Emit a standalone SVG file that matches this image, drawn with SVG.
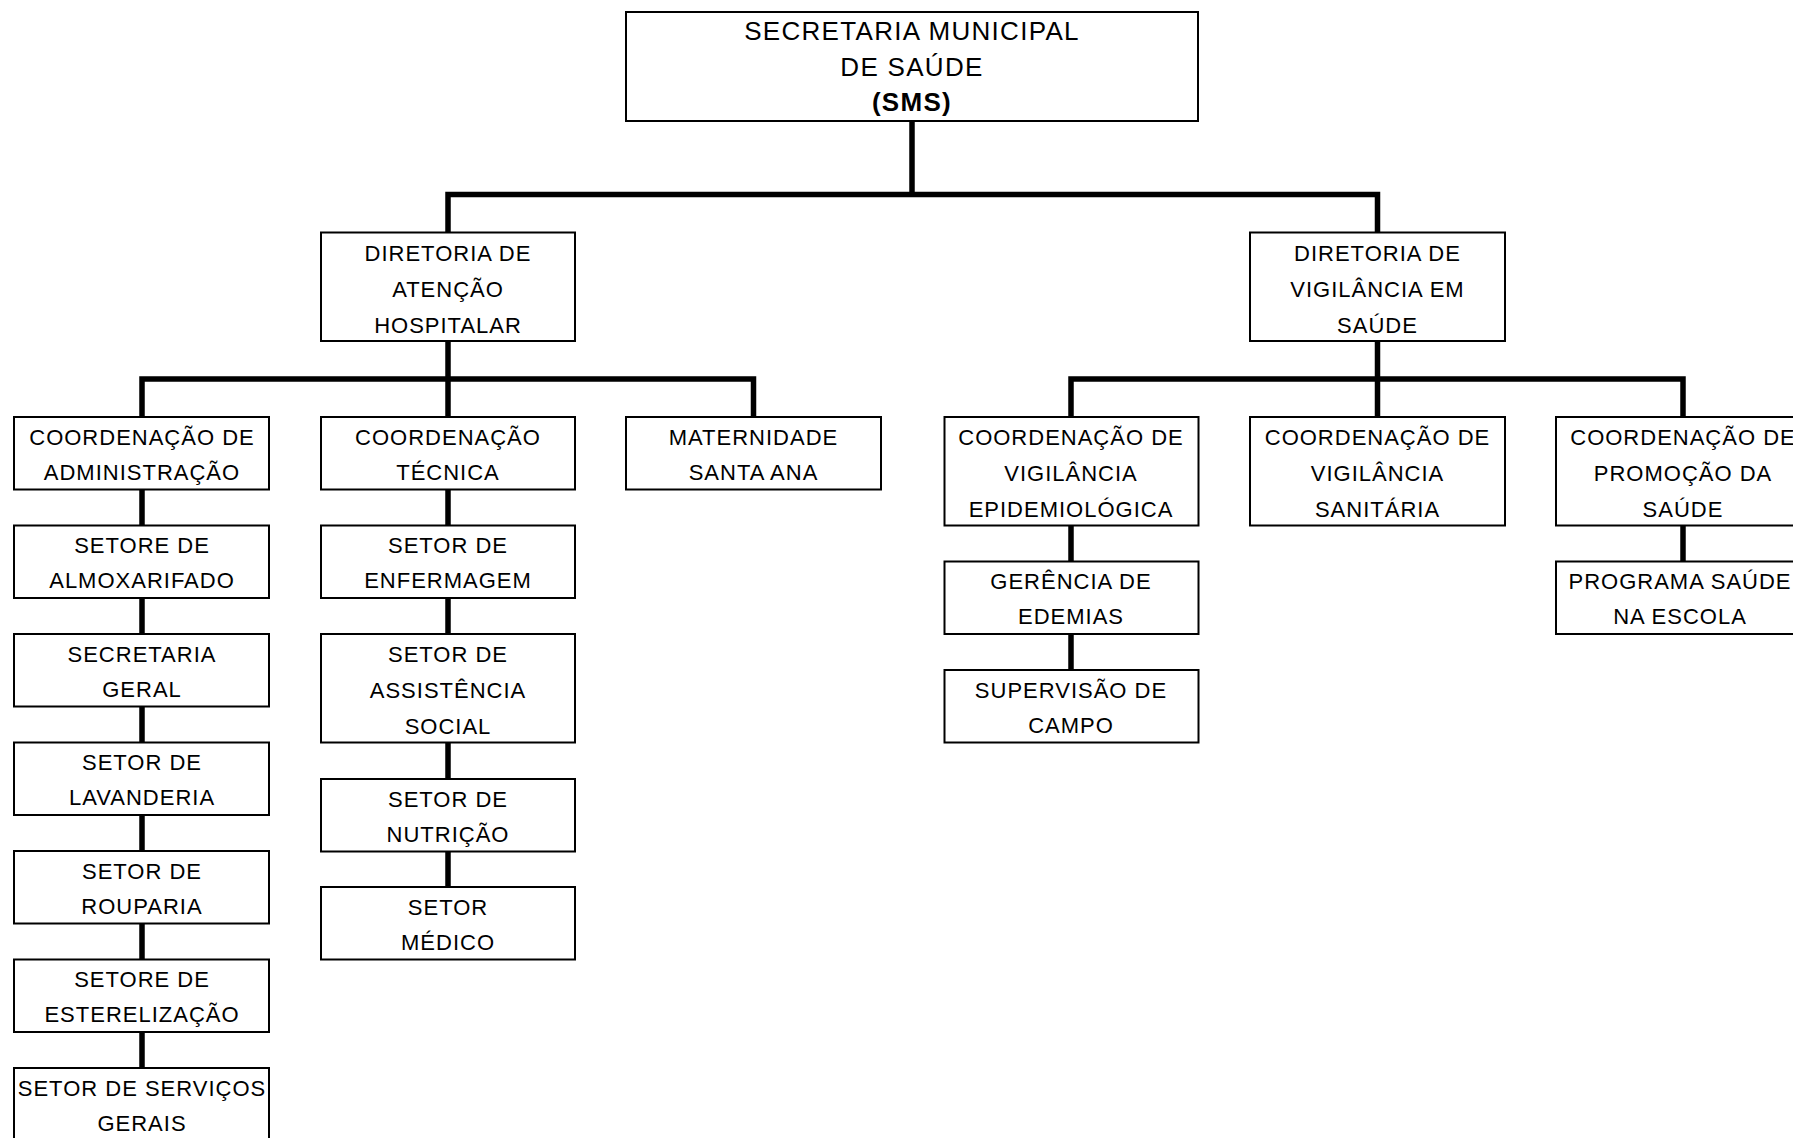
<svg xmlns="http://www.w3.org/2000/svg" width="1793" height="1138" viewBox="0 0 1793 1138">
<style>
  .box { fill: #fff; stroke: #000; stroke-width: 2; }
  .t { font-family: "Liberation Sans", Arial, sans-serif; font-size: 22px; letter-spacing: 1px; text-anchor: middle; fill: #000; }
  .tt { font-family: "Liberation Sans", Arial, sans-serif; font-size: 26px; letter-spacing: 1.3px; text-anchor: middle; fill: #000; }
  .b { font-weight: bold; }
  .c { fill: none; stroke: #000; stroke-width: 5.5; stroke-linejoin: miter; stroke-linecap: butt; }
</style>
<rect width="1793" height="1138" fill="#fff"/>
<g id="connectors">
  <path class="c" d="M912 121 V194.5"/>
  <path class="c" d="M448 232.5 V194.5 H1377.5 V232.5"/>
  <path class="c" d="M448 341 V417"/>
  <path class="c" d="M142 417 V379 H753.5 V417"/>
  <path class="c" d="M1377.5 341 V417"/>
  <path class="c" d="M1071 417 V379 H1683 V417"/>
  <path class="c" d="M142 489.5 V525.5 M142 598 V634 M142 706.5 V742.5 M142 815 V851 M142 923.5 V959.5 M142 1032 V1068"/>
  <path class="c" d="M448 489.5 V525.5 M448 598 V634 M448 742.5 V779 M448 851.5 V887"/>
  <path class="c" d="M1071 525.5 V561.5 M1071 634 V670"/>
  <path class="c" d="M1683 525.5 V561.5"/>
</g>
<g id="sms">
  <rect class="box" x="626" y="12" width="572" height="109"/>
  <text class="tt" x="912" y="40">SECRETARIA MUNICIPAL</text>
  <text class="tt" x="912" y="76">DE SAÚDE</text>
  <text class="tt b" x="912" y="111">(SMS)</text>
</g>
<g id="dir_atencao">
  <rect class="box" x="321" y="232.5" width="254" height="108.5"/>
  <text class="t" x="448" y="260.5">DIRETORIA DE</text>
  <text class="t" x="448" y="296.5">ATENÇÃO</text>
  <text class="t" x="448" y="332.5">HOSPITALAR</text>
</g>
<g id="dir_vigilancia">
  <rect class="box" x="1250" y="232.5" width="255" height="108.5"/>
  <text class="t" x="1377.5" y="260.5">DIRETORIA DE</text>
  <text class="t" x="1377.5" y="296.5">VIGILÂNCIA EM</text>
  <text class="t" x="1377.5" y="332.5">SAÚDE</text>
</g>
<g id="coord_adm">
  <rect class="box" x="14" y="417" width="255" height="72.5"/>
  <text class="t" x="142" y="444.5">COORDENAÇÃO DE</text>
  <text class="t" x="142" y="479.5">ADMINISTRAÇÃO</text>
</g>
<g id="setor_almox">
  <rect class="box" x="14" y="525.5" width="255" height="72.5"/>
  <text class="t" x="142" y="553">SETORE DE</text>
  <text class="t" x="142" y="588">ALMOXARIFADO</text>
</g>
<g id="secretaria_geral">
  <rect class="box" x="14" y="634" width="255" height="72.5"/>
  <text class="t" x="142" y="661.5">SECRETARIA</text>
  <text class="t" x="142" y="696.5">GERAL</text>
</g>
<g id="setor_lavanderia">
  <rect class="box" x="14" y="742.5" width="255" height="72.5"/>
  <text class="t" x="142" y="770">SETOR DE</text>
  <text class="t" x="142" y="805">LAVANDERIA</text>
</g>
<g id="setor_rouparia">
  <rect class="box" x="14" y="851" width="255" height="72.5"/>
  <text class="t" x="142" y="878.5">SETOR DE</text>
  <text class="t" x="142" y="913.5">ROUPARIA</text>
</g>
<g id="setor_esterelizacao">
  <rect class="box" x="14" y="959.5" width="255" height="72.5"/>
  <text class="t" x="142" y="987">SETORE DE</text>
  <text class="t" x="142" y="1022">ESTERELIZAÇÃO</text>
</g>
<g id="setor_servicos_gerais">
  <rect class="box" x="14" y="1068" width="255" height="72.5"/>
  <text class="t" x="142" y="1095.5">SETOR DE SERVIÇOS</text>
  <text class="t" x="142" y="1130.5">GERAIS</text>
</g>
<g id="coord_tecnica">
  <rect class="box" x="321" y="417" width="254" height="72.5"/>
  <text class="t" x="448" y="444.5">COORDENAÇÃO</text>
  <text class="t" x="448" y="479.5">TÉCNICA</text>
</g>
<g id="setor_enfermagem">
  <rect class="box" x="321" y="525.5" width="254" height="72.5"/>
  <text class="t" x="448" y="553">SETOR DE</text>
  <text class="t" x="448" y="588">ENFERMAGEM</text>
</g>
<g id="setor_assistencia">
  <rect class="box" x="321" y="634" width="254" height="108.5"/>
  <text class="t" x="448" y="661.5">SETOR DE</text>
  <text class="t" x="448" y="697.5">ASSISTÊNCIA</text>
  <text class="t" x="448" y="733.5">SOCIAL</text>
</g>
<g id="setor_nutricao">
  <rect class="box" x="321" y="779" width="254" height="72.5"/>
  <text class="t" x="448" y="806.5">SETOR DE</text>
  <text class="t" x="448" y="841.5">NUTRIÇÃO</text>
</g>
<g id="setor_medico">
  <rect class="box" x="321" y="887" width="254" height="72.5"/>
  <text class="t" x="448" y="914.5">SETOR</text>
  <text class="t" x="448" y="949.5">MÉDICO</text>
</g>
<g id="maternidade">
  <rect class="box" x="626" y="417" width="255" height="72.5"/>
  <text class="t" x="753.5" y="444.5">MATERNIDADE</text>
  <text class="t" x="753.5" y="479.5">SANTA ANA</text>
</g>
<g id="coord_epidemiologica">
  <rect class="box" x="944.5" y="417" width="254" height="108.5"/>
  <text class="t" x="1071" y="444.5">COORDENAÇÃO DE</text>
  <text class="t" x="1071" y="480.5">VIGILÂNCIA</text>
  <text class="t" x="1071" y="516.5">EPIDEMIOLÓGICA</text>
</g>
<g id="gerencia_edemias">
  <rect class="box" x="944.5" y="561.5" width="254" height="72.5"/>
  <text class="t" x="1071" y="589">GERÊNCIA DE</text>
  <text class="t" x="1071" y="624">EDEMIAS</text>
</g>
<g id="supervisao_campo">
  <rect class="box" x="944.5" y="670" width="254" height="72.5"/>
  <text class="t" x="1071" y="697.5">SUPERVISÃO DE</text>
  <text class="t" x="1071" y="732.5">CAMPO</text>
</g>
<g id="coord_sanitaria">
  <rect class="box" x="1250" y="417" width="255" height="108.5"/>
  <text class="t" x="1377.5" y="444.5">COORDENAÇÃO DE</text>
  <text class="t" x="1377.5" y="480.5">VIGILÂNCIA</text>
  <text class="t" x="1377.5" y="516.5">SANITÁRIA</text>
</g>
<g id="coord_promocao">
  <rect class="box" x="1556" y="417" width="254" height="108.5"/>
  <text class="t" x="1683" y="444.5">COORDENAÇÃO DE</text>
  <text class="t" x="1683" y="480.5">PROMOÇÃO DA</text>
  <text class="t" x="1683" y="516.5">SAÚDE</text>
</g>
<g id="programa_saude_escola">
  <rect class="box" x="1556" y="561.5" width="254" height="72.5"/>
  <text class="t" x="1680" y="589">PROGRAMA SAÚDE</text>
  <text class="t" x="1680" y="624">NA ESCOLA</text>
</g>
</svg>
